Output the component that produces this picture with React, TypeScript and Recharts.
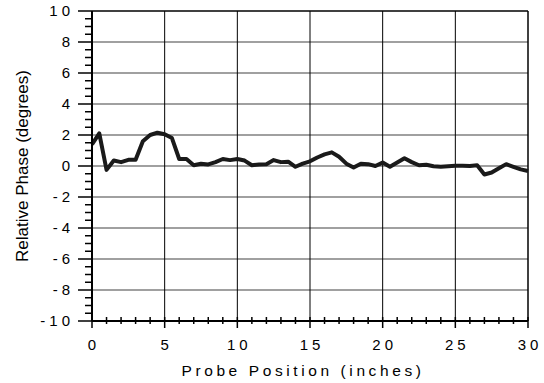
import React from 'react';
import { LineChart, Line, XAxis, YAxis, ReferenceLine } from 'recharts';

const positions = [
  0, 0.5, 1, 1.5, 2, 2.5, 3, 3.5, 4, 4.5, 5, 5.5, 6, 6.5, 7, 7.5, 8, 8.5, 9, 9.5,
  10, 10.5, 11, 11.5, 12, 12.5, 13, 13.5, 14, 14.5, 15, 15.5, 16, 16.5, 17, 17.5, 18, 18.5, 19, 19.5,
  20, 20.5, 21, 21.5, 22, 22.5, 23, 23.5, 24, 24.5, 25, 25.5, 26, 26.5, 27, 27.5, 28, 28.5, 29, 29.5, 30,
];
const phase = [
  1.4, 2.1, -0.25, 0.35, 0.25, 0.4, 0.4, 1.6, 2.0, 2.15, 2.05, 1.8, 0.45, 0.45, 0.05, 0.15, 0.1, 0.25, 0.45, 0.38,
  0.45, 0.35, 0.05, 0.1, 0.12, 0.38, 0.25, 0.28, -0.05, 0.15, 0.3, 0.55, 0.75, 0.88, 0.6, 0.15, -0.1, 0.15, 0.12, 0.0,
  0.22, -0.05, 0.22, 0.5, 0.25, 0.05, 0.08, -0.02, -0.05, -0.02, 0.02, 0.02, 0.0, 0.05, -0.55, -0.42, -0.15, 0.12, -0.05, -0.22, -0.32,
];

const xMajorTicks = [0, 5, 10, 15, 20, 25, 30];
const yMajorTicks = [-10, -8, -6, -4, -2, 0, 2, 4, 6, 8, 10];
const xMinorTicks = Array.from({ length: 31 }, (_, i) => i);
const yMinorTicks = Array.from({ length: 41 }, (_, i) => -10 + i * 0.5);
const xGrid = [5, 10, 15, 20, 25];
const yGrid = [-8, -6, -4, -2, 0, 2, 4, 6, 8];

const data = positions.map((p, i) => ({ x: p, y: phase[i] }));

const FONT = 'Arial, "Liberation Sans", sans-serif';

const YTick = (props: any) => {
  const { x, y, payload } = props;
  const v = payload.value;
  const major = yMajorTicks.includes(v);
  return (
    <g>
      <line x1={x} x2={x - (major ? 14 : 7)} y1={y} y2={y} stroke="#000" strokeWidth={1.5} />
      {major && (
        <text x={x - 18} y={y} dy={5} textAnchor="end" fontFamily={FONT} fontSize={15} letterSpacing={4} fill="#000">
          {String(v)}
        </text>
      )}
    </g>
  );
};

const XTick = (props: any) => {
  const { x, y, payload } = props;
  const v = payload.value;
  const major = xMajorTicks.includes(v);
  return (
    <g>
      <line x1={x} x2={x} y1={y - 4} y2={y + (major ? 7 : 3)} stroke="#000" strokeWidth={1.5} />
      {major && (
        <text x={x + 2} y={y + 29} textAnchor="middle" fontFamily={FONT} fontSize={15} letterSpacing={4} fill="#000">
          {String(v)}
        </text>
      )}
    </g>
  );
};

export default function App() {
  return (
    <div style={{ position: 'absolute', left: 0, top: 0, width: 544, height: 383, background: '#fff' }}>
      <LineChart width={544} height={383} data={data} margin={{ top: 11, right: 16, bottom: 0, left: 0 }}>
        {yGrid.map((v) => (
          <ReferenceLine key={'h' + v} y={v} stroke="#808080" strokeWidth={1.5} ifOverflow="visible" />
        ))}
        {xGrid.map((v) => (
          <ReferenceLine key={'v' + v} x={v} stroke="#000" strokeWidth={1} ifOverflow="visible" />
        ))}
        <ReferenceLine y={10} stroke="#000" strokeWidth={1.5} ifOverflow="visible" />
        <ReferenceLine x={30} stroke="#000" strokeWidth={1.5} ifOverflow="visible" />
        <XAxis
          dataKey="x"
          type="number"
          domain={[0, 30]}
          ticks={xMinorTicks}
          interval={0}
          tickSize={0}
          tickMargin={0}
          tickLine={false}
          axisLine={{ stroke: '#000', strokeWidth: 2 }}
          tick={XTick}
          height={62}
          label={{
            value: 'Probe Position (inches)',
            position: 'insideBottom',
            offset: 7,
            dx: -7,
            style: { fontFamily: FONT, fontSize: 15.5, letterSpacing: 3.6, fill: '#000' },
          }}
        />
        <YAxis
          type="number"
          domain={[-10, 10]}
          ticks={yMinorTicks}
          interval={0}
          tickSize={0}
          tickMargin={0}
          tickLine={false}
          axisLine={{ stroke: '#000', strokeWidth: 2 }}
          tick={YTick}
          width={92}
          label={{
            value: 'Relative Phase (degrees)',
            angle: -90,
            position: 'insideLeft',
            offset: 0,
            dx: 22,
            style: { fontFamily: FONT, fontSize: 17, fill: '#000', textAnchor: 'middle' },
          }}
        />
        <Line
          type="linear"
          dataKey="y"
          stroke="#1a1a1a"
          strokeWidth={4}
          dot={false}
          isAnimationActive={false}
          strokeLinejoin="round"
        />
      </LineChart>
    </div>
  );
}
